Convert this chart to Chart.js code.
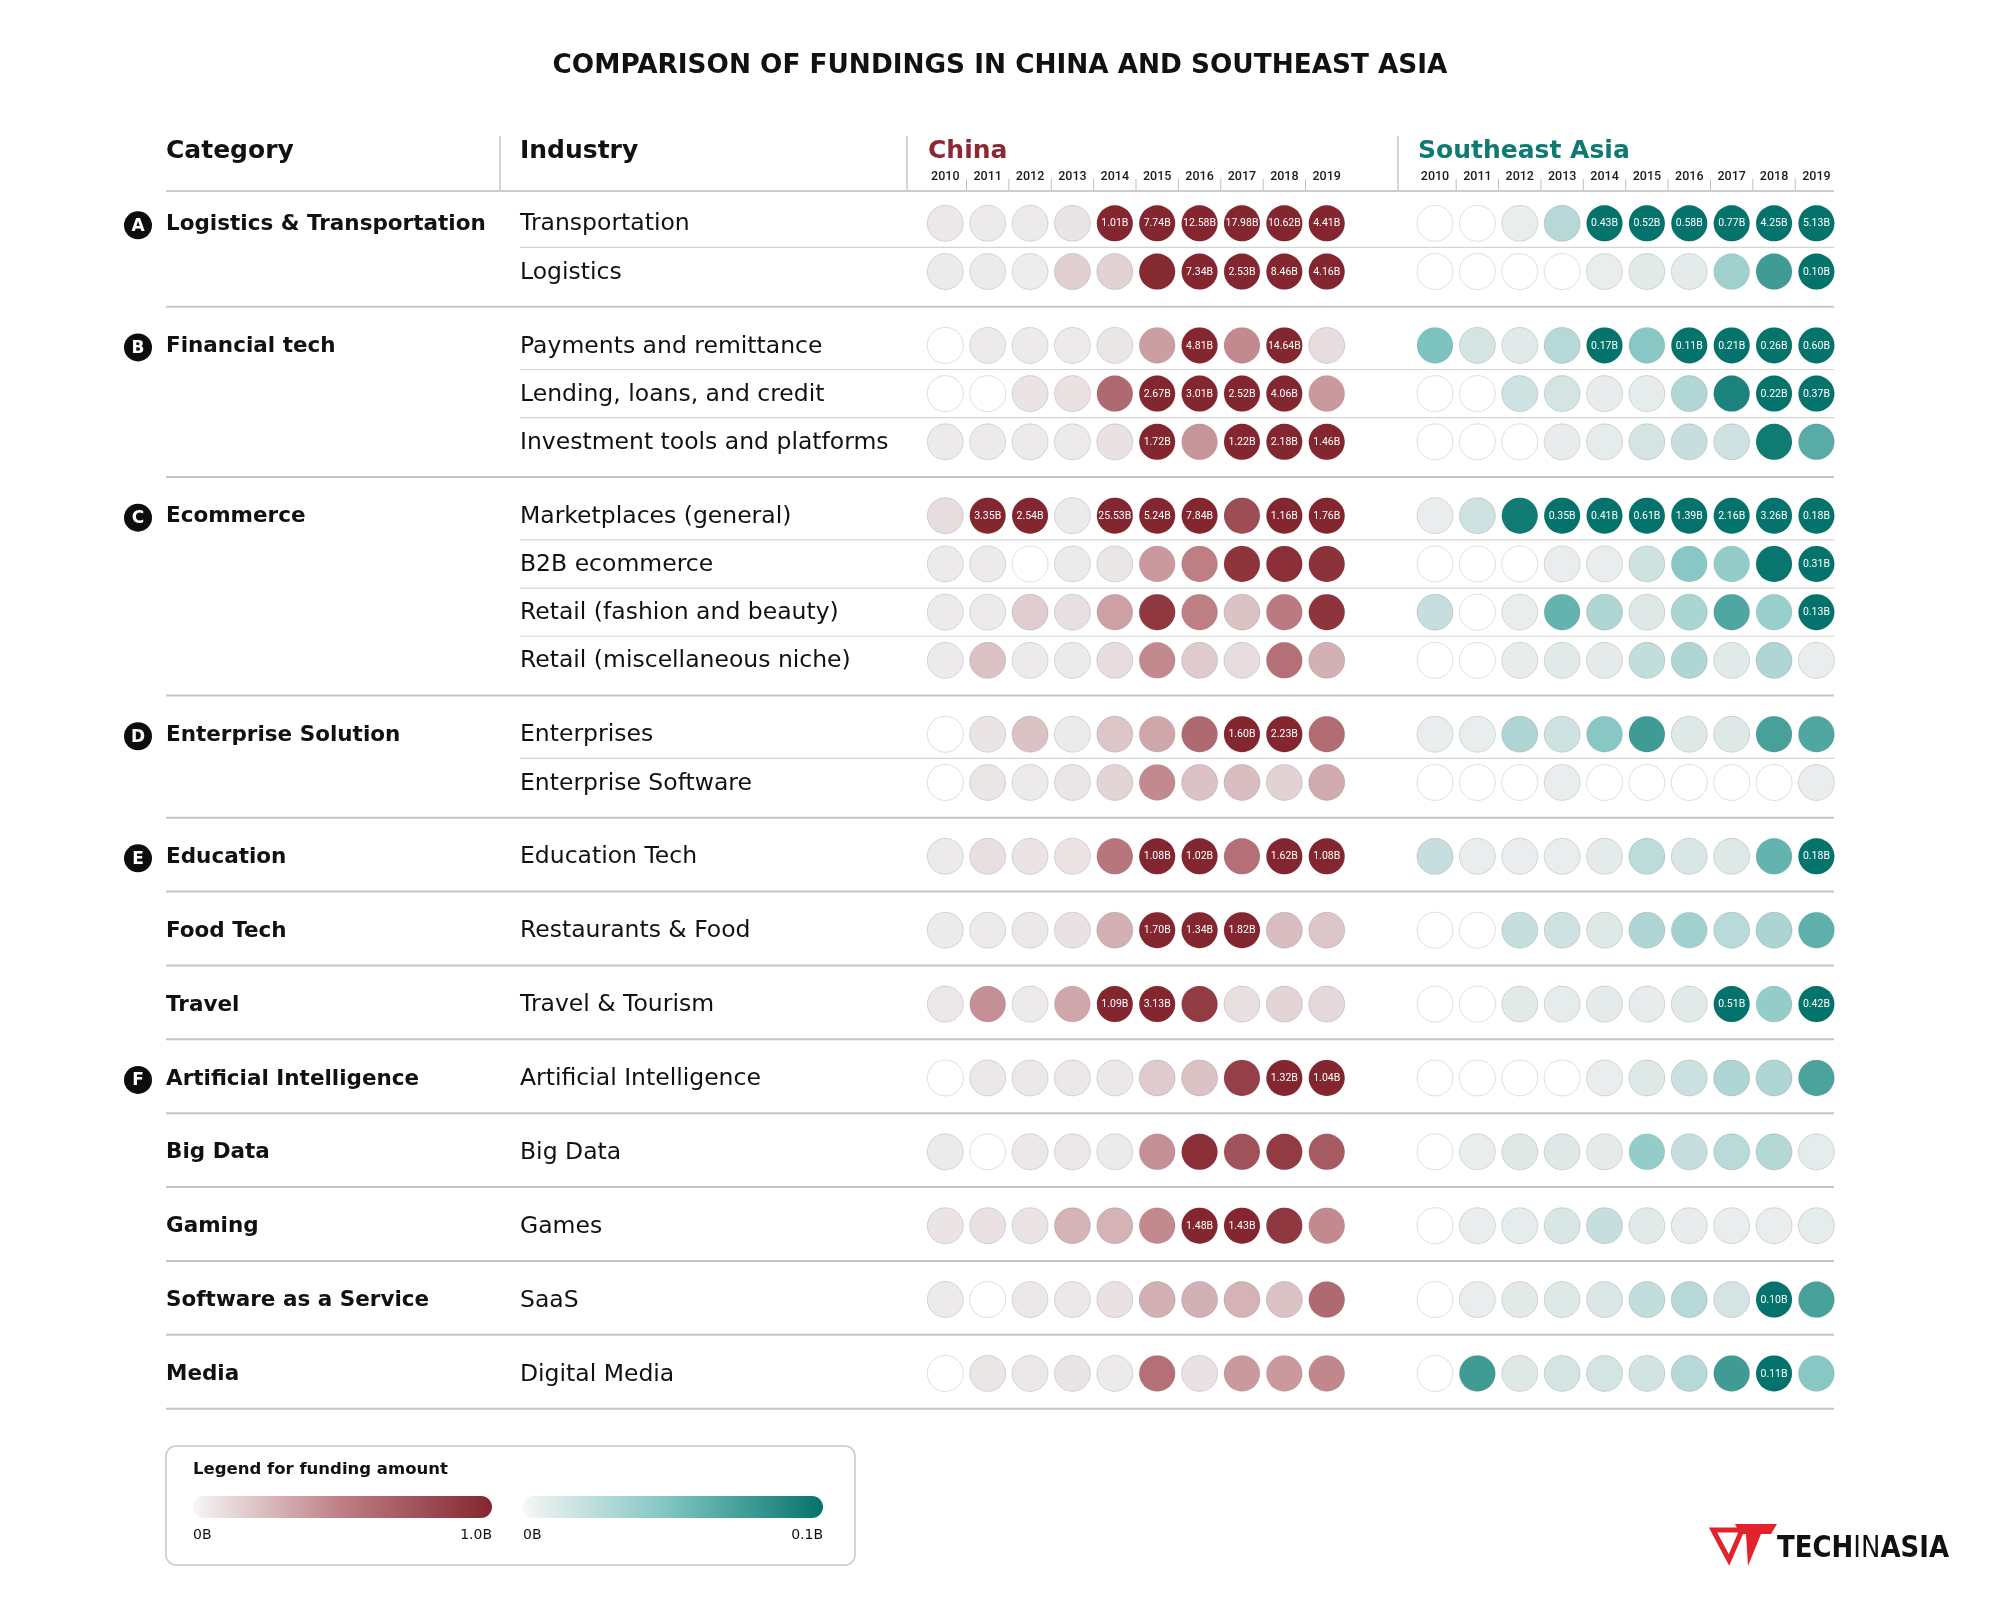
<!DOCTYPE html>
<html><head><meta charset="utf-8">
<script src="https://cdn.jsdelivr.net/npm/chart.js@4.4.1/dist/chart.umd.min.js"></script>
<style>html,body{margin:0;padding:0;background:#fff;}canvas{display:block;}</style>
</head><body>
<canvas id="c" width="2000" height="1600"></canvas>
<script>
// ---------------- DATA ----------------
const chartTitle = 'COMPARISON OF FUNDINGS IN CHINA AND SOUTHEAST ASIA';
const years = ['2010','2011','2012','2013','2014','2015','2016','2017','2018','2019'];
const regions = ['China', 'Southeast Asia'];
const columnHeaders = ['Category', 'Industry'];
const categories = ['Logistics & Transportation','Financial tech','Ecommerce','Enterprise Solution','Education','Food Tech','Travel','Artificial Intelligence','Big Data','Gaming','Software as a Service','Media'];
const categoryBadges = ['A','B','C','D','E','','','F','','','',''];
const industries = ['Transportation','Logistics','Payments and remittance','Lending, loans, and credit','Investment tools and platforms','Marketplaces (general)','B2B ecommerce','Retail (fashion and beauty)','Retail (miscellaneous niche)','Enterprises','Enterprise Software','Education Tech','Restaurants & Food','Travel & Tourism','Artificial Intelligence','Big Data','Games','SaaS','Digital Media'];
const industryCategory = [0,0,1,1,1,2,2,2,2,3,3,4,5,6,7,8,9,10,11];
// funding in billions USD (null = no funding)
const chinaFunding = [
  [0.03, 0.02, 0.02, 0.05, 1.01, 7.74, 12.58, 17.98, 10.62, 4.41],
  [0.02, 0.02, 0.01, 0.14, 0.13, 0.98, 7.34, 2.53, 8.46, 4.16],
  [null, 0.02, 0.02, 0.02, 0.04, 0.36, 4.81, 0.45, 14.64, 0.08],
  [null, null, 0.05, 0.06, 0.62, 2.67, 3.01, 2.52, 4.06, 0.38],
  [0.02, 0.02, 0.02, 0.02, 0.06, 1.72, 0.40, 1.22, 2.18, 1.46],
  [0.08, 3.35, 2.54, 0.02, 25.53, 5.24, 7.84, 0.78, 1.16, 1.76],
  [0.02, 0.02, null, 0.02, 0.04, 0.38, 0.50, 0.92, 0.95, 0.93],
  [0.02, 0.02, 0.15, 0.07, 0.35, 0.90, 0.50, 0.20, 0.52, 0.92],
  [0.02, 0.20, 0.02, 0.02, 0.08, 0.45, 0.16, 0.08, 0.58, 0.28],
  [null, 0.05, 0.20, 0.02, 0.18, 0.32, 0.62, 1.60, 2.23, 0.60],
  [null, 0.04, 0.02, 0.04, 0.12, 0.45, 0.20, 0.22, 0.13, 0.30],
  [0.02, 0.07, 0.05, 0.05, 0.55, 1.08, 1.02, 0.58, 1.62, 1.08],
  [0.02, 0.02, 0.03, 0.06, 0.28, 1.70, 1.34, 1.82, 0.22, 0.18],
  [0.03, 0.42, 0.02, 0.32, 1.09, 3.13, 0.88, 0.07, 0.12, 0.10],
  [null, 0.03, 0.03, 0.03, 0.03, 0.16, 0.20, 0.85, 1.32, 1.04],
  [0.02, null, 0.03, 0.03, 0.02, 0.42, 0.95, 0.75, 0.88, 0.70],
  [0.05, 0.06, 0.05, 0.26, 0.27, 0.45, 1.48, 1.43, 0.90, 0.45],
  [0.02, null, 0.03, 0.03, 0.06, 0.28, 0.28, 0.27, 0.20, 0.62],
  [null, 0.04, 0.03, 0.05, 0.02, 0.58, 0.06, 0.38, 0.38, 0.46]
];
const seaFunding = [
  [null, null, 0.002, 0.025, 0.43, 0.52, 0.58, 0.77, 4.25, 5.13],
  [null, null, null, null, 0.002, 0.006, 0.005, 0.035, 0.075, 0.10],
  [0.05, 0.012, 0.006, 0.025, 0.17, 0.045, 0.11, 0.21, 0.26, 0.60],
  [null, null, 0.015, 0.012, 0.003, 0.004, 0.027, 0.09, 0.22, 0.37],
  [null, null, null, 0.003, 0.004, 0.012, 0.018, 0.015, 0.095, 0.065],
  [0.002, 0.015, 0.095, 0.35, 0.41, 0.61, 1.39, 2.16, 3.26, 0.18],
  [null, null, null, 0.002, 0.002, 0.015, 0.045, 0.04, 0.098, 0.31],
  [0.018, null, 0.002, 0.06, 0.028, 0.008, 0.03, 0.068, 0.038, 0.13],
  [null, null, 0.003, 0.006, 0.005, 0.02, 0.028, 0.006, 0.028, 0.002],
  [0.002, 0.002, 0.028, 0.015, 0.045, 0.075, 0.008, 0.008, 0.072, 0.068],
  [null, null, null, 0.002, null, null, null, null, null, 0.002],
  [0.018, 0.002, 0.002, 0.002, 0.005, 0.022, 0.01, 0.008, 0.06, 0.18],
  [null, null, 0.018, 0.015, 0.008, 0.028, 0.034, 0.024, 0.03, 0.062],
  [null, null, 0.006, 0.004, 0.005, 0.004, 0.006, 0.51, 0.04, 0.42],
  [null, null, null, null, 0.002, 0.008, 0.016, 0.028, 0.028, 0.07],
  [null, 0.002, 0.008, 0.008, 0.005, 0.04, 0.018, 0.024, 0.026, 0.004],
  [null, 0.002, 0.004, 0.01, 0.018, 0.006, 0.003, 0.002, 0.002, 0.004],
  [null, 0.002, 0.006, 0.008, 0.009, 0.02, 0.025, 0.012, 0.10, 0.072],
  [null, 0.075, 0.008, 0.012, 0.012, 0.013, 0.025, 0.075, 0.11, 0.045]
];
const colorScaleMax = [1.0, 0.1];            // China, Southeast Asia (billions)
const legendTitle = 'Legend for funding amount';
const legendChinaTicks = ['0B', '1.0B'];
const legendSeaTicks = ['0B', '0.1B'];

// ---------------- LAYOUT / STYLE ----------------
const L = {
  W: 2000, H: 1600,
  titleY: 66, headerY: 151, yearY: 177, headerLineY: 191, sepTop: 136,
  catX: 166, indX: 520, badgeX: 138, lineRight: 1834,
  chinaHeadX: 928, seaHeadX: 1418, catSepX: 500, chinaSepX: 907, seaSepX: 1398,
  colStep: 42.38, chinaX0: 945.3, rowY0: 223.3, rowStep: 48.22,
  groupGap: 0.532, regionGap: 11.555, groupLineOffset: 0.73, radius: 18
};
const FONT = '"DejaVu Sans", sans-serif';
const NUMFONT = 'Roboto, "DejaVu Sans", sans-serif';
const chinaStops = [[239,239,239],[189,126,132],[132,38,47]];
const seaStops   = [[239,239,239],[124,195,191],[3,115,107]];
const regionColors = ['#8a2833', '#0f7a71'];

function lerp(a,b,t){return a.map((v,i)=>Math.round(v+(b[i]-v)*t));}
function ramp(stops,t){t=Math.max(0,Math.min(1,t));return t<=0.5?lerp(stops[0],stops[1],t/0.5):lerp(stops[1],stops[2],(t-0.5)/0.5);}
function fillFor(v,stops,max){if(v==null)return '#ffffff';return 'rgb('+ramp(stops,v/max).join(',')+')';}

const rowPos = industries.map((_, i) => i + industryCategory[i] * L.groupGap);
const xMin = -0.5, xMax = (years.length - 1) + L.regionGap + 0.5;
const yMin = -0.5, yMax = rowPos[rowPos.length - 1] + 0.5;
const padLeft = L.chinaX0 - 0.5 * L.colStep;
const padRight = L.W - padLeft - (xMax - xMin) * L.colStep;
const padTop = L.rowY0 - 0.5 * L.rowStep;
const padBottom = L.H - padTop - (yMax - yMin) * L.rowStep;

function makePoints(values, offset){
  const out = [];
  values.forEach((row, r) => row.forEach((v, c) => out.push({x: c + offset, y: rowPos[r], v: v})));
  return out;
}

function makeDataset(label, values, offset, stops, max){
  return {
    label: label,
    data: makePoints(values, offset),
    pointRadius: L.radius, pointHoverRadius: L.radius,
    pointBackgroundColor: ctx => fillFor(ctx.raw ? ctx.raw.v : null, stops, max),
    pointBorderColor: ctx => (ctx.raw && ctx.raw.v != null && ctx.raw.v / max > 0.3) ? 'rgba(0,0,0,0.05)' : 'rgba(0,0,0,0.13)',
    pointBorderWidth: 1,
    clip: false
  };
}

function line(ctx, x1, y1, x2, y2, color, w){
  ctx.strokeStyle = color; ctx.lineWidth = w;
  ctx.beginPath(); ctx.moveTo(x1, y1); ctx.lineTo(x2, y2); ctx.stroke();
}

const decor = {
  id: 'decor',
  beforeDatasetsDraw(chart){
    const ctx = chart.ctx, xs = chart.scales.x, ys = chart.scales.y;
    ctx.save();
    ctx.textBaseline = 'middle';
    // title
    ctx.fillStyle = '#111'; ctx.font = 'bold 26.3px ' + FONT; ctx.textAlign = 'center';
    ctx.fillText(chartTitle, L.W / 2, L.titleY);
    // column headers
    ctx.textAlign = 'left'; ctx.font = 'bold 25px ' + FONT;
    ctx.fillText(columnHeaders[0], L.catX, L.headerY);
    ctx.fillText(columnHeaders[1], L.indX, L.headerY);
    ctx.fillStyle = regionColors[0]; ctx.fillText(regions[0], L.chinaHeadX, L.headerY);
    ctx.fillStyle = regionColors[1]; ctx.fillText(regions[1], L.seaHeadX, L.headerY);
    // header separators
    [L.catSepX, L.chinaSepX, L.seaSepX].forEach(x => line(ctx, x, L.sepTop, x, L.headerLineY, '#c9c9c9', 1.5));
    // years + small ticks
    ctx.fillStyle = '#1a1a1a'; ctx.font = '500 12.5px ' + NUMFONT; ctx.textAlign = 'center';
    [0, L.regionGap].forEach(off => {
      years.forEach((yr, c) => {
        const px = xs.getPixelForValue(c + off);
        ctx.fillText(yr, px, L.yearY);
        if (c < years.length - 1) {
          const mx = (px + xs.getPixelForValue(c + 1 + off)) / 2;
          line(ctx, mx, L.yearY + 2, mx, L.headerLineY, '#bdbdbd', 1);
        }
      });
    });
    line(ctx, L.catX, L.headerLineY, L.lineRight, L.headerLineY, '#cccccc', 2);
    // rows
    industries.forEach((name, r) => {
      const g = industryCategory[r];
      const py = ys.getPixelForValue(rowPos[r]);
      const first = r === 0 || industryCategory[r - 1] !== g;
      const last = r === industries.length - 1 || industryCategory[r + 1] !== g;
      ctx.fillStyle = '#111'; ctx.textAlign = 'left';
      ctx.font = '23.5px ' + FONT;
      ctx.fillText(name, L.indX, py + 1);
      if (first) {
        ctx.font = 'bold 21.5px ' + FONT;
        ctx.fillText(categories[g], L.catX, py + 1);
        const b = categoryBadges[g];
        if (b) {
          ctx.beginPath(); ctx.arc(L.badgeX, py + 2, 14, 0, Math.PI * 2); ctx.fillStyle = '#0d0d0d'; ctx.fill();
          ctx.fillStyle = '#fff'; ctx.font = 'bold 17px ' + FONT; ctx.textAlign = 'center';
          ctx.fillText(b, L.badgeX, py + 3);
        }
      }
      if (last) {
        const ly = ys.getPixelForValue(rowPos[r] + L.groupLineOffset);
        line(ctx, L.catX, ly, L.lineRight, ly, '#c4c4c4', 2);
      } else {
        const ly = (py + ys.getPixelForValue(rowPos[r + 1])) / 2;
        line(ctx, L.indX, ly, L.lineRight, ly, '#d4d4d4', 1.2);
      }
    });
    ctx.restore();
  },
  afterDatasetsDraw(chart){
    const ctx = chart.ctx;
    ctx.save();
    ctx.textAlign = 'center'; ctx.textBaseline = 'middle';
    ctx.fillStyle = '#ffffff'; ctx.font = '10.5px ' + NUMFONT;
    chart.data.datasets.forEach((ds, di) => {
      const meta = chart.getDatasetMeta(di);
      ds.data.forEach((p, j) => {
        if (p.v != null && p.v >= colorScaleMax[di] - 1e-9) {
          const el = meta.data[j];
          ctx.fillText(p.v.toFixed(2) + 'B', el.x, el.y + 0.5);
        }
      });
    });
    // legend box
    ctx.strokeStyle = '#c8c8c8'; ctx.lineWidth = 1.5;
    ctx.beginPath(); ctx.roundRect(166, 1446, 689, 119, 10); ctx.stroke();
    ctx.fillStyle = '#111'; ctx.textAlign = 'left'; ctx.font = 'bold 16.5px ' + FONT;
    ctx.fillText(legendTitle, 193, 1470);
    const bars = [[193, 492, chinaStops, legendChinaTicks], [523, 823, seaStops, legendSeaTicks]];
    bars.forEach(([x1, x2, stops, ticks]) => {
      const gr = ctx.createLinearGradient(x1, 0, x2, 0);
      gr.addColorStop(0, 'rgb(' + [246,246,246].join(',') + ')');
      gr.addColorStop(0.5, 'rgb(' + stops[1].join(',') + ')');
      gr.addColorStop(1, 'rgb(' + stops[2].join(',') + ')');
      ctx.fillStyle = gr;
      ctx.beginPath(); ctx.roundRect(x1, 1496, x2 - x1, 22, 11); ctx.fill();
      ctx.fillStyle = '#111'; ctx.font = '14px ' + FONT;
      ctx.textAlign = 'left'; ctx.fillText(ticks[0], x1, 1535);
      ctx.textAlign = 'right'; ctx.fillText(ticks[1], x2, 1535);
    });
    // logo mark
    ctx.fillStyle = '#e3232c'; ctx.strokeStyle = '#e3232c';
    ctx.lineWidth = 5; ctx.lineJoin = 'miter';
    ctx.beginPath(); ctx.moveTo(1713, 1530); ctx.lineTo(1742, 1530); ctx.lineTo(1729, 1560); ctx.closePath(); ctx.stroke();
    ctx.beginPath();
    ctx.moveTo(1735, 1524); ctx.lineTo(1777, 1524); ctx.lineTo(1771, 1534); ctx.lineTo(1761, 1534);
    ctx.lineTo(1748, 1566); ctx.lineTo(1746, 1534); ctx.lineTo(1740, 1534); ctx.closePath(); ctx.fill();
    // logo text
    const parts = [['TECH', 'bold'], ['IN', 'normal'], ['ASIA', 'bold']];
    ctx.textAlign = 'left'; ctx.textBaseline = 'alphabetic'; ctx.fillStyle = '#111';
    let total = 0;
    parts.forEach(p => { ctx.font = p[1] + ' 31px ' + FONT; total += ctx.measureText(p[0]).width; });
    const sx = 172 / total;
    ctx.translate(1777, 1557); ctx.scale(sx, 1);
    let cx = 0;
    parts.forEach(p => { ctx.font = p[1] + ' 31px ' + FONT; ctx.fillText(p[0], cx, 0); cx += ctx.measureText(p[0]).width; });
    ctx.restore();
  }
};

new Chart(document.getElementById('c'), {
  type: 'scatter',
  data: {
    datasets: [
      makeDataset(regions[0], chinaFunding, 0, chinaStops, colorScaleMax[0]),
      makeDataset(regions[1], seaFunding, L.regionGap, seaStops, colorScaleMax[1])
    ]
  },
  options: {
    responsive: false, animation: false, devicePixelRatio: 1, events: [],
    layout: { padding: { left: padLeft, right: padRight, top: padTop, bottom: padBottom } },
    scales: {
      x: { type: 'linear', min: xMin, max: xMax, display: false },
      y: { type: 'linear', min: yMin, max: yMax, reverse: true, display: false }
    },
    plugins: { legend: { display: false }, tooltip: { enabled: false }, title: { display: false } }
  },
  plugins: [decor]
});
</script>
</body></html>
